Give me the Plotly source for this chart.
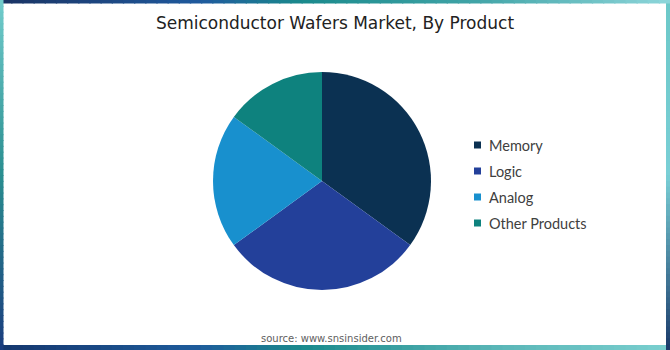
import plotly.graph_objects as go

# ---- data ----
labels = ["Memory", "Logic", "Analog", "Other Products"]
values = [35, 30, 20, 15]
colors = ["#0B3152", "#23409A", "#1890CE", "#0E827E"]
title_text = "Semiconductor Wafers Market, By Product"
source_text = "source: www.snsinsider.com"

W, H = 670, 350


def hex2rgb(h):
    h = h.lstrip("#")
    return tuple(int(h[i:i + 2], 16) for i in (0, 2, 4))


def interp(stops, t):
    for i in range(len(stops) - 1):
        t0, c0 = stops[i]
        t1, c1 = stops[i + 1]
        if t0 <= t <= t1:
            f = (t - t0) / (t1 - t0) if t1 > t0 else 0
            a, b = hex2rgb(c0), hex2rgb(c1)
            return "rgb(%d,%d,%d)" % tuple(round(a[k] + (b[k] - a[k]) * f) for k in range(3))
    return stops[-1][1]


fig = go.Figure()
fig.add_trace(go.Pie(
    labels=labels,
    values=values,
    marker=dict(colors=colors, line=dict(width=0)),
    sort=False,
    direction="clockwise",
    rotation=0,
    textinfo="none",
    showlegend=False,
    domain=dict(x=[(322 - 109) / W, (322 + 109) / W],
                y=[(H - 181 - 109) / H, (H - 181 + 109) / H]),
))

shapes = []
annotations = []
N = 60
top_stops = [(0, "#1A3363"), (0.3, "#1F5A9E"), (0.45, "#1A8A8C"), (0.7, "#3FA3A6"), (1, "#8ED6DA")]
bot_stops = [(0, "#15376E"), (0.3, "#1E5C9C"), (0.45, "#1A8A8C"), (0.75, "#5BB7B8"), (1, "#7ACFCF")]
left_stops = [(0, "#72CCCC"), (0.5, "#2A8E90"), (1, "#1A3C7E")]
right_stops = [(0, "#6CC8C8"), (0.5, "#7ACFD6"), (1, "#1A3A6A")]
for i in range(N):
    t0, t1 = i / N, (i + 1) / N
    tm = (t0 + t1) / 2
    shapes.append(dict(type="rect", xref="paper", yref="paper", x0=t0, x1=t1 + 0.002,
                       y0=1 - 3.5 / H, y1=1, fillcolor=interp(top_stops, tm), line=dict(width=0), layer="above"))
    shapes.append(dict(type="rect", xref="paper", yref="paper", x0=t0, x1=t1 + 0.002,
                       y0=0, y1=5 / H, fillcolor=interp(bot_stops, tm), line=dict(width=0), layer="above"))
    shapes.append(dict(type="rect", xref="paper", yref="paper", x0=0, x1=3.5 / W,
                       y0=1 - t1 - 0.003, y1=1 - t0, fillcolor=interp(left_stops, tm), line=dict(width=0), layer="above"))
    shapes.append(dict(type="rect", xref="paper", yref="paper", x0=1 - 4 / W, x1=1,
                       y0=1 - t1 - 0.003, y1=1 - t0, fillcolor=interp(right_stops, tm), line=dict(width=0), layer="above"))

# legend (squares + labels), laid out in rows
legend_x_sq, legend_y0, legend_dy, sq = 474, 145, 26, 7
for i, (lab, col) in enumerate(zip(labels, colors)):
    yc = legend_y0 + i * legend_dy
    shapes.append(dict(type="rect", xref="paper", yref="paper",
                       x0=legend_x_sq / W, x1=(legend_x_sq + sq) / W,
                       y0=1 - (yc + sq / 2) / H, y1=1 - (yc - sq / 2) / H,
                       fillcolor=col, line=dict(width=0)))
    annotations.append(dict(text=lab, x=487 / W, y=1 - yc / H, xref="paper", yref="paper",
                            xanchor="left", yanchor="middle", showarrow=False,
                            font=dict(family="Lato", size=14.5, color="#404040")))

annotations.append(dict(text=source_text, x=0.495, y=1 - 338 / H, xref="paper", yref="paper",
                        xanchor="center", yanchor="middle", showarrow=False,
                        font=dict(family="DejaVu Sans", size=10, color="#606060")))

fig.update_layout(
    width=W, height=H,
    margin=dict(l=0, r=0, t=0, b=0),
    paper_bgcolor="white",
    plot_bgcolor="white",
    shapes=shapes,
    title=dict(text=title_text, x=0.5, xanchor="center", y=1 - 23 / H, yanchor="middle",
               font=dict(family="DejaVu Sans", size=17, color="#222222")),
    showlegend=False,
    annotations=annotations,
)

fig.write_html("out.html")
